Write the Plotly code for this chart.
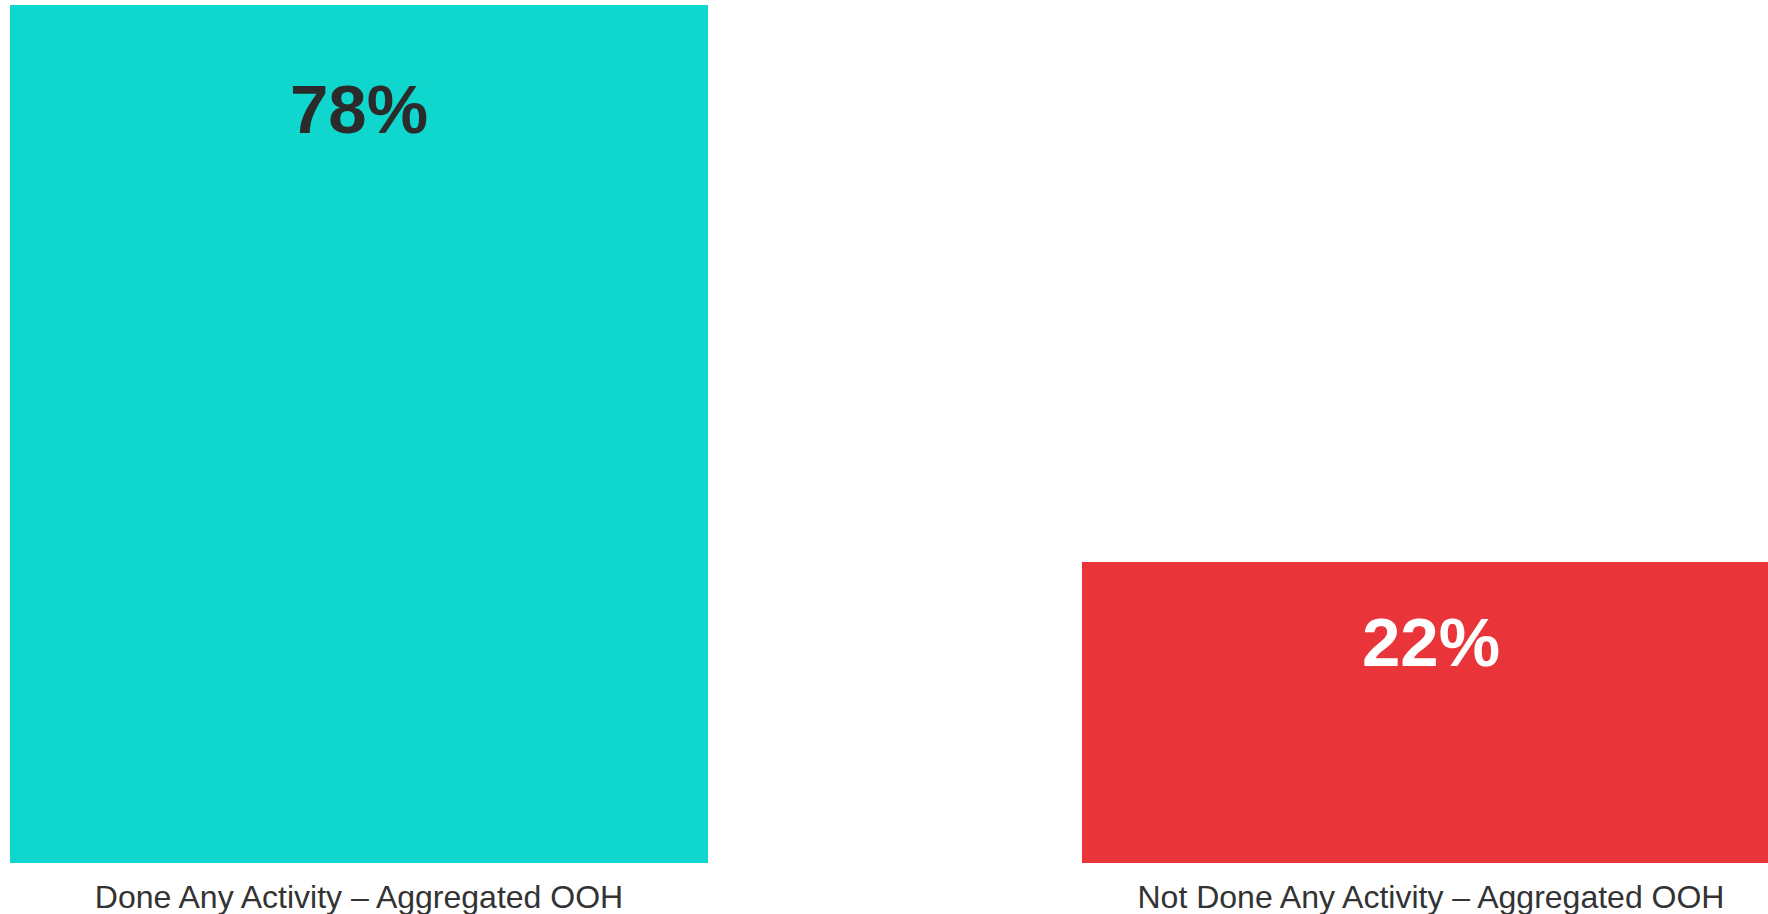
import plotly.graph_objects as go

categories = ["Done Any Activity – Aggregated OOH", "Not Done Any Activity – Aggregated OOH"]
values = [78, 22]
label_text = ["78%", "22%"]
bar_colors = ["#10D7CD", "#E9343A"]
label_colors = ["#2B2B2B", "#FFFFFF"]

AXIS_MIN = -8.26
x_pos = [0, 1]

fig = go.Figure()
fig.add_trace(go.Bar(
    x=x_pos, y=[v - AXIS_MIN for v in values], base=AXIS_MIN,
    width=0.651, marker=dict(color=bar_colors, line=dict(width=0)),
    hoverinfo="skip", showlegend=False,
))

label_shift = [-104, -80]
for xi, v, t, c, s in zip(x_pos, values, label_text, label_colors, label_shift):
    fig.add_annotation(x=xi, y=v, xref="x", yref="y", text=f"<b>{t}</b>",
                       showarrow=False, yanchor="middle", yshift=s,
                       font=dict(family="Liberation Sans, Arial", size=69, color=c))

fig.update_layout(
    width=1768, height=914,
    margin=dict(l=0, r=0, t=5, b=51),
    paper_bgcolor="white", plot_bgcolor="white",
    bargap=0,
    xaxis=dict(range=[-0.3349, 1.3144], tickvals=x_pos, ticktext=categories,
               showgrid=False, zeroline=False, showline=False, ticks="",
               ticklabelstandoff=12, automargin=False,
               tickfont=dict(family="Liberation Sans, Arial", size=32, color="#333333")),
    yaxis=dict(range=[AXIS_MIN, 78], visible=False, showgrid=False, zeroline=False,
               automargin=False),
)

fig.write_html("out.html")
